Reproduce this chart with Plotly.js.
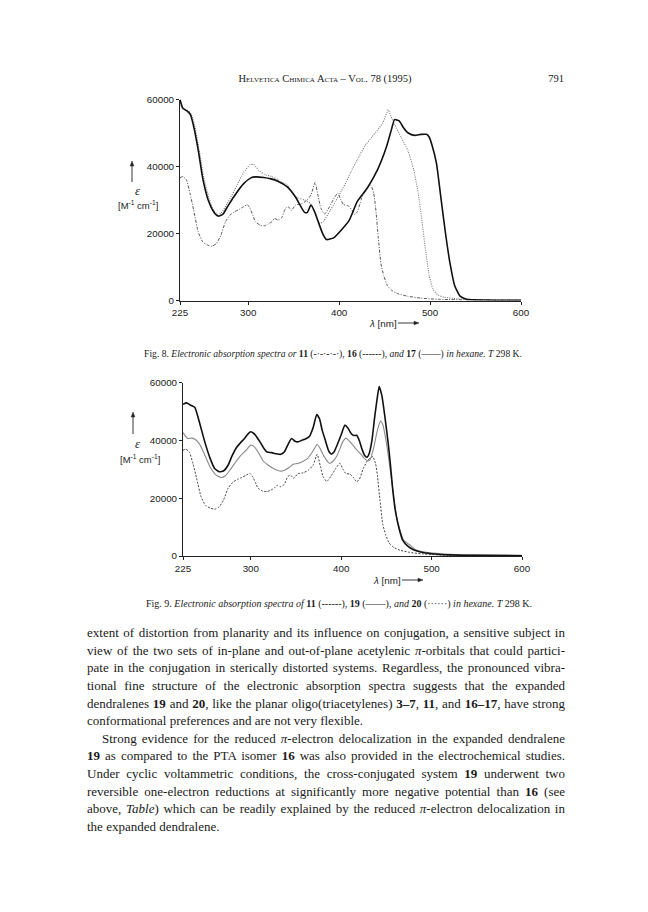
<!DOCTYPE html>
<html><head><meta charset="utf-8">
<script src="https://cdn.plot.ly/plotly-3.0.1.min.js"></script>
<style>
html,body{margin:0;padding:0;background:#fff;}
#page{position:relative;width:648px;height:912px;overflow:hidden;background:#fff;}
#plot{position:absolute;left:0;top:0;width:648px;height:912px;}
.t{position:absolute;font-family:"Liberation Serif","Times New Roman",serif;color:#1a1a1a;white-space:nowrap;transform:translate(-50%,-50%);line-height:1;}
#body{position:absolute;left:87px;top:624.2px;width:478px;font-family:"Liberation Serif","Times New Roman",serif;font-size:13px;line-height:17.6px;color:#1a1a1a;}
#body div{white-space:nowrap;text-align:left;}
#body .ind{padding-left:15px;}
</style></head>
<body>
<div id="page">
<div id="plot"></div>
<div class="t" style="left:325px;top:79px;font-size:10.5px;font-variant:small-caps;">Helvetica Chimica Acta – Vol. 78 (1995)</div>
<div class="t" style="left:556px;top:79px;font-size:10.5px;">791</div>
<div class="t" style="left:333px;top:354px;font-size:9.6px;">Fig. 8. <i>Electronic absorption spectra or</i> <b>11</b> (-·-·-·-·), <b>16</b> (------), <i>and</i> <b>17</b> (——) <i>in hexane. T</i> 298 K.</div>
<div class="t" style="left:339px;top:604px;font-size:10px;">Fig. 9. <i>Electronic absorption spectra of</i> <b>11</b> (------), <b>19</b> (——), <i>and</i> <b>20</b> (······) <i>in hexane. T</i> 298 K.</div>
<div id="body">
<div class="j"><span>extent of distortion from planarity and its influence on conjugation, a sensitive subject in</span></div>
<div class="j"><span>view of the two sets of in-plane and out-of-plane acetylenic <i>π</i>-orbitals that could partici-</span></div>
<div class="j"><span>pate in the conjugation in sterically distorted systems. Regardless, the pronounced vibra-</span></div>
<div class="j"><span>tional fine structure of the electronic absorption spectra suggests that the expanded</span></div>
<div class="j"><span>dendralenes <b>19</b> and <b>20</b>, like the planar oligo(triacetylenes) <b>3–7</b>, <b>11</b>, and <b>16–17</b>, have strong</span></div>
<div class="e"><span>conformational preferences and are not very flexible.</span></div>
<div class="j ind"><span>Strong evidence for the reduced <i>π</i>-electron delocalization in the expanded dendralene</span></div>
<div class="j"><span><b>19</b> as compared to the PTA isomer <b>16</b> was also provided in the electrochemical studies.</span></div>
<div class="j"><span>Under cyclic voltammetric conditions, the cross-conjugated system <b>19</b> underwent two</span></div>
<div class="j"><span>reversible one-electron reductions at significantly more negative potential than <b>16</b> (see</span></div>
<div class="j"><span>above, <i>Table</i>) which can be readily explained by the reduced <i>π</i>-electron delocalization in</span></div>
<div class="e"><span>the expanded dendralene.</span></div>
</div>
</div>
<script>
// ---- data (wavelength in nm, epsilon in M^-1 cm^-1) ----
var xTicks = [225, 300, 400, 500, 600];
var yTicks = [0, 20000, 40000, 60000];
var yTickText = ["0", "20000", "40000", "60000"];

// compound 11 (shown in both figures)
var wl11 = [225, 228, 232, 236, 240, 245, 250, 255, 260, 265, 270, 275, 280, 285, 290, 295, 299, 302, 305, 308, 313, 318, 322, 326, 329, 333, 337, 341, 344, 347.5, 352, 358, 364, 369, 373.5, 377, 380, 384, 389, 394, 398.5, 402, 405, 410, 414, 417, 420, 424.5, 429, 433, 435, 438, 440, 443, 446, 449, 453, 458, 465, 475, 490, 510, 550, 600];
var eps11 = [36600, 37000, 36000, 32000, 27000, 20500, 17500, 16600, 16200, 17000, 19500, 23500, 25500, 26500, 27200, 28000, 28600, 27500, 25500, 23500, 22500, 22300, 22800, 23500, 24500, 24000, 24800, 27500, 28000, 26900, 28500, 28800, 29800, 31500, 35200, 31000, 27500, 25800, 27800, 30300, 32100, 30000, 28600, 28300, 27000, 25700, 26500, 30300, 33000, 34200, 34400, 32000, 28000, 19000, 11000, 7500, 4500, 3000, 2000, 1300, 700, 350, 150, 50];

// compound 16
var wl16 = [225, 228, 233, 237, 241, 246, 251, 257, 262, 266, 270, 277, 285, 295, 302, 306, 312, 318, 326, 333, 343, 350, 356, 362, 368, 372, 376, 379, 383, 390, 396, 402, 408, 413, 420, 428, 436, 442, 448, 454, 457, 461, 468, 476, 482, 487, 491, 495, 499, 503, 508, 515, 530, 560, 600];
var eps16 = [59000, 57000, 56800, 55800, 52500, 45000, 37000, 30500, 27000, 25700, 26000, 29000, 33000, 38200, 40500, 40600, 38800, 37600, 37000, 36000, 34400, 31400, 30500, 30000, 29000, 27500, 24500, 23000, 23700, 26800, 29500, 32500, 35500, 38500, 42000, 46000, 48800, 50800, 53000, 56900, 55000, 52500, 48800, 44500, 39000, 32000, 24000, 15000, 7500, 3500, 1800, 1000, 500, 200, 100];

// compound 17
var wl17 = [225, 228, 233, 236.5, 240, 245, 250, 256, 262, 267, 272, 277, 284, 295, 303, 308, 317, 325, 332, 343, 352, 358, 362, 365, 369, 373, 377, 382, 386, 394, 402, 411, 420, 431, 442, 452, 457, 461, 466, 471, 476, 483, 490, 496, 499, 502, 507, 512, 517, 522, 527, 533, 540, 560, 600];
var eps17 = [60000, 57500, 56500, 55500, 52000, 45000, 36500, 30000, 26500, 25200, 25700, 27900, 30900, 34900, 36600, 36900, 36700, 36300, 35700, 33900, 30900, 28000, 26300, 26300, 28500, 26500, 23500, 19900, 18200, 18700, 20900, 23900, 29600, 33600, 38900, 45800, 50500, 54000, 53600, 51500, 50000, 49300, 49600, 49600, 48800, 46500, 41000, 30500, 20000, 11000, 4500, 1300, 400, 150, 50];

// compound 19
var wl19 = [225, 229, 233, 238, 243, 249, 255, 260, 265, 270, 275, 279, 284, 288, 293, 297, 300, 303, 306, 310, 314, 318, 323, 328, 333, 337, 341, 345, 349, 352, 356, 361, 365, 369, 373, 376, 379, 382, 386, 389, 392, 396, 400, 404, 407, 411, 414, 417, 420, 423, 426, 428.5, 431, 434, 437, 440, 442, 445, 448, 452, 454, 457, 460, 464, 468, 474, 480, 490, 500, 520, 550, 600];
var eps19 = [52500, 53000, 52300, 51500, 46500, 39600, 33800, 30300, 29200, 29500, 31500, 34500, 37500, 39000, 40700, 42300, 43000, 42500, 41500, 39600, 37500, 36000, 35800, 35400, 35200, 36000, 38500, 40700, 39700, 39500, 40000, 40600, 41500, 44500, 49000, 47500, 43500, 40500, 36500, 35300, 36000, 38800, 42000, 45300, 44500, 42400, 41700, 41800, 40000, 37000, 34800, 34200, 35500, 40000, 48000, 55000, 58700, 55500, 49000, 39000, 33000, 23000, 15500, 9500, 5500, 3300, 2200, 1200, 800, 400, 200, 100];

// compound 20
var wl20 = [225, 230, 235, 240, 244, 249, 255, 261, 267, 272, 277, 282, 288, 295, 300, 304, 309, 314, 319, 325, 330, 334, 338, 343, 347, 352, 358, 363, 367, 370, 373.5, 377, 381, 387, 391, 395, 399, 402, 405.5, 409, 413, 417, 421, 425, 429, 432, 436, 440, 443.5, 446, 449, 452, 455, 458, 461, 465, 469, 476, 483, 491, 505, 520, 550, 600];
var eps20 = [42700, 40700, 40800, 40000, 38400, 35000, 30800, 28200, 27200, 27800, 29800, 32000, 34500, 36700, 38400, 37800, 35500, 32800, 31500, 30300, 29600, 29400, 29800, 30800, 31800, 32000, 32800, 33800, 35500, 37000, 38700, 37000, 34500, 32100, 32800, 34500, 37500, 39700, 40800, 39800, 38400, 36800, 35500, 34000, 33000, 33300, 37500, 43500, 46700, 45500, 41000, 35000, 28000, 21000, 14000, 9000, 5500, 3800, 2100, 1500, 900, 600, 350, 200];

// ---- justify body lines exactly (word-spacing may be negative) ----
function justifyLines(){
  var lines = document.querySelectorAll('#body .j');
  for (var i = 0; i < lines.length; i++){
    var d = lines[i], s = d.firstChild;
    d.style.wordSpacing = '0px';
    var avail = 478 - (d.classList.contains('ind') ? 15 : 0);
    var w = s.getBoundingClientRect().width;
    var n = (s.textContent.match(/ /g) || []).length;
    if (n > 0) d.style.wordSpacing = ((avail - w) / n) + 'px';
  }
}
justifyLines();
if (document.fonts && document.fonts.ready) document.fonts.ready.then(justifyLines);

// ---- layout helpers ----
var W = 648, H = 912;
function px(x){ return x / W; }
function py(y){ return 1 - y / H; }

function tr(x, y, xa, ya, color, width, dash){
  return {x: x, y: y, xaxis: xa, yaxis: ya, type: 'scatter', mode: 'lines',
    line: {color: color, width: width, dash: dash, shape: 'spline', smoothing: 0.5},
    hoverinfo: 'skip', showlegend: false};
}

var traces = [
  tr(wl11, eps11, 'x', 'y', '#555', 1.0, '3px,1.5px,1px,1.5px'),
  tr(wl16, eps16, 'x', 'y', '#777', 1.1, '1px,1.3px'),
  tr(wl17, eps17, 'x', 'y', '#111', 1.6, 'solid'),
  tr(wl11, eps11, 'x2', 'y2', '#444', 1.0, '2px,1.5px'),
  tr(wl20, eps20, 'x2', 'y2', '#8a8a8a', 1.1, 'solid'),
  tr(wl19, eps19, 'x2', 'y2', '#111', 1.6, 'solid')
];

var tickFont = {family: '"Liberation Sans", Arial, sans-serif', size: 9.8, color: '#222'};
function xax(d, anchor){
  return {domain: d, range: [225, 600], anchor: anchor, tickvals: xTicks,
    ticktext: xTicks.map(String), ticks: 'outside', ticklen: 3, tickwidth: 1, tickcolor: '#222',
    showline: true, linecolor: '#222', linewidth: 1, showgrid: false, zeroline: false,
    tickfont: tickFont, fixedrange: true};
}
function yax(d, anchor){
  return {domain: d, range: [0, 60000], anchor: anchor, tickvals: yTicks, ticktext: yTickText,
    ticks: 'outside', ticklen: 3, tickwidth: 1, tickcolor: '#222',
    showline: true, linecolor: '#222', linewidth: 1, showgrid: false, zeroline: false,
    tickfont: tickFont, fixedrange: true};
}

var sans = '"Liberation Sans", Arial, sans-serif';
var serif = '"Liberation Serif", serif';
function txt(x, y, t, size, fam){
  return {xref: 'paper', yref: 'paper', x: px(x), y: py(y), text: t, showarrow: false,
    xanchor: 'center', yanchor: 'middle', font: {family: fam || sans, size: size, color: '#222'}};
}
// arrow as shapes: shaft line + filled head (tip at x,y; direction 'up' or 'right')
function arrowShapes(x, y, len, dir){
  var shapes = [];
  var c = '#222';
  if (dir === 'up'){
    shapes.push({type: 'line', xref: 'paper', yref: 'paper', x0: px(x), x1: px(x), y0: py(y + len), y1: py(y + 4), line: {color: c, width: 0.9}});
    shapes.push({type: 'path', xref: 'paper', yref: 'paper',
      path: 'M ' + px(x) + ' ' + py(y) + ' L ' + px(x - 1.8) + ' ' + py(y + 5) + ' L ' + px(x + 1.8) + ' ' + py(y + 5) + ' Z',
      fillcolor: c, line: {color: c, width: 0.5}});
  } else {
    shapes.push({type: 'line', xref: 'paper', yref: 'paper', x0: px(x - len), x1: px(x - 4), y0: py(y), y1: py(y), line: {color: c, width: 0.9}});
    shapes.push({type: 'path', xref: 'paper', yref: 'paper',
      path: 'M ' + px(x) + ' ' + py(y) + ' L ' + px(x - 5) + ' ' + py(y - 1.8) + ' L ' + px(x - 5) + ' ' + py(y + 1.8) + ' Z',
      fillcolor: c, line: {color: c, width: 0.5}});
  }
  return shapes;
}

var annotations = [
  txt(138, 191, '<i>ε</i>', 13, serif),
  txt(138, 205, '[M<sup>-1</sup> cm<sup>-1</sup>]', 9.5),
  txt(383, 323, '<i>λ</i> [nm]', 9.8),
  txt(138, 443, '<i>ε</i>', 13, serif),
  txt(140, 459, '[M<sup>-1</sup> cm<sup>-1</sup>]', 9.5),
  txt(387, 580, '<i>λ</i> [nm]', 9.8)
];

var shapes = [].concat(
  arrowShapes(132, 161, 21, 'up'),
  arrowShapes(419, 323, 21, 'right'),
  arrowShapes(133, 412, 22, 'up'),
  arrowShapes(423, 580, 21, 'right')
);

var layout = {
  width: W, height: H, margin: {l: 0, r: 0, t: 0, b: 0},
  paper_bgcolor: 'rgba(0,0,0,0)', plot_bgcolor: 'rgba(0,0,0,0)',
  showlegend: false,
  xaxis: xax([px(180), px(521)], 'y'),
  yaxis: yax([py(300.5), py(99.5)], 'x'),
  xaxis2: xax([px(183), px(522)], 'y2'),
  yaxis2: yax([py(556), py(382.7)], 'x2'),
  annotations: annotations,
  shapes: shapes
};

Plotly.newPlot('plot', traces, layout, {staticPlot: true, displayModeBar: false});
</script>
</body></html>
